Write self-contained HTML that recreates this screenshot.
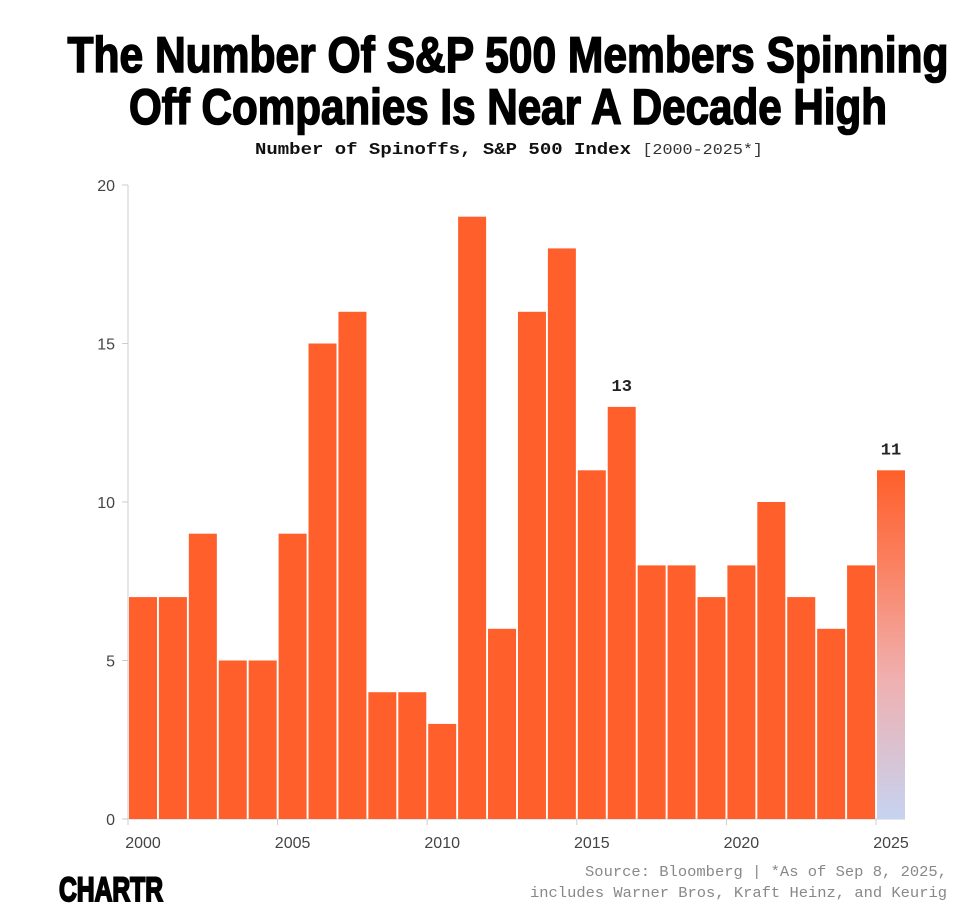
<!DOCTYPE html>
<html><head><meta charset="utf-8"><style>
html,body{margin:0;padding:0;background:#fff;}
svg{display:block;}
</style></head><body>
<svg id="chart" width="973" height="910" viewBox="0 0 973 910" xmlns="http://www.w3.org/2000/svg">
<defs>
<linearGradient id="lastGrad" x1="0" y1="0" x2="0" y2="1">
<stop offset="0" stop-color="#ff5f2a"/>
<stop offset="0.25" stop-color="#fb7e5c"/>
<stop offset="0.6" stop-color="#f0b0b0"/>
<stop offset="1" stop-color="#c6d3f1"/>
</linearGradient>
</defs>
<text x="508" y="72" text-anchor="middle" font-family="Liberation Sans Narrow, Liberation Sans, sans-serif" font-weight="bold" font-size="50" textLength="881" lengthAdjust="spacingAndGlyphs" fill="#000" stroke="#000" stroke-width="1.6">The Number Of S&amp;P 500 Members Spinning</text>
<text x="508" y="124" text-anchor="middle" font-family="Liberation Sans Narrow, Liberation Sans, sans-serif" font-weight="bold" font-size="50" textLength="758" lengthAdjust="spacingAndGlyphs" fill="#000" stroke="#000" stroke-width="1.6">Off Companies Is Near A Decade High</text>
<text x="255" y="154" font-family="Liberation Mono, monospace" font-size="17" fill="#111" textLength="508" lengthAdjust="spacingAndGlyphs"><tspan font-weight="bold">Number of Spinoffs, S&amp;P 500 Index </tspan><tspan font-size="15" fill="#333">[2000-2025*]</tspan></text>
<g id="axes"></g>
<g id="bars"></g>
<text x="947" y="876" text-anchor="end" font-family="Liberation Mono, monospace" font-size="15" fill="#888" textLength="362" lengthAdjust="spacingAndGlyphs">Source: Bloomberg | *As of Sep 8, 2025,</text>
<text x="947" y="897" text-anchor="end" font-family="Liberation Mono, monospace" font-size="15" fill="#888" textLength="417" lengthAdjust="spacingAndGlyphs">includes Warner Bros, Kraft Heinz, and Keurig</text>
<text x="59" y="901" font-family="Liberation Sans Narrow, Liberation Sans, sans-serif" font-weight="bold" font-size="34" textLength="104" lengthAdjust="spacingAndGlyphs" fill="#000" stroke="#000" stroke-width="2">CHARTR</text>
</svg>
<script>
const years = [2000,2001,2002,2003,2004,2005,2006,2007,2008,2009,2010,2011,2012,2013,2014,2015,2016,2017,2018,2019,2020,2021,2022,2023,2024,2025];
const spinoffs = [7,7,9,5,5,9,15,16,4,4,3,19,6,16,18,11,13,8,8,7,8,10,7,6,8,11];
const yTicks = [0,5,10,15,20];
const xTicks = [2000,2005,2010,2015,2020,2025];
const labeledYears = [2016,2025];

const NS='http://www.w3.org/2000/svg';
const x0=128, step=29.92, bw=28, yBase=819, yTop=185, yMax=20;
const xs = y => x0 + (y-years[0])*step;
const ys = v => yBase - v/yMax*(yBase-yTop);
function mk(tag, attrs, parent){const e=document.createElementNS(NS,tag);for(const k in attrs)e.setAttribute(k,attrs[k]);parent.appendChild(e);return e;}
const axes=document.getElementById('axes'), bars=document.getElementById('bars');

const yAxis=mk('line',{x1:x0,x2:x0,y1:yTop,y2:yBase,stroke:'#ccc','stroke-width':1},axes);


yTicks.forEach(t=>{
  const tk=mk('line',{x1:x0-6,x2:x0,y1:ys(t),y2:ys(t),stroke:'#ccc'},axes);
  
  
  const tl=mk('text',{x:x0-13,y:ys(t)+6,'text-anchor':'end','font-family':'Liberation Sans, sans-serif','font-size':16,fill:'#444'},axes);
  tl.textContent=t;
  
  
});
const xAxis=mk('line',{x1:x0,x2:xs(2025)+bw+1,y1:yBase,y2:yBase,stroke:'#ccc'},axes);


xTicks.forEach(t=>{
  const tk=mk('line',{x1:xs(t),x2:xs(t),y1:yBase,y2:yBase+6,stroke:'#ccc'},axes);
  
  
  const tl=mk('text',{x:xs(t)+1+bw/2,y:yBase+29,'text-anchor':'middle','font-family':'Liberation Sans, sans-serif','font-size':16,fill:'#444'},axes);
  tl.textContent=t;
  
  
});
years.forEach((yr,i)=>{
  const v=spinoffs[i];
  const r=mk('rect',{x:xs(yr)+1,y:ys(v),width:bw,height:yBase-ys(v),fill:(i===years.length-1)?'url(#lastGrad)':'#ff5f2a'},bars);
  
  
  if(labeledYears.includes(yr)){
    const t=mk('text',{x:xs(yr)+1+bw/2,y:ys(v)-16,'text-anchor':'middle','font-family':'Liberation Mono, monospace','font-weight':'bold','font-size':17,fill:'#222'},bars);
    t.textContent=v;
    
    
  }
});
</script>
</body></html>
